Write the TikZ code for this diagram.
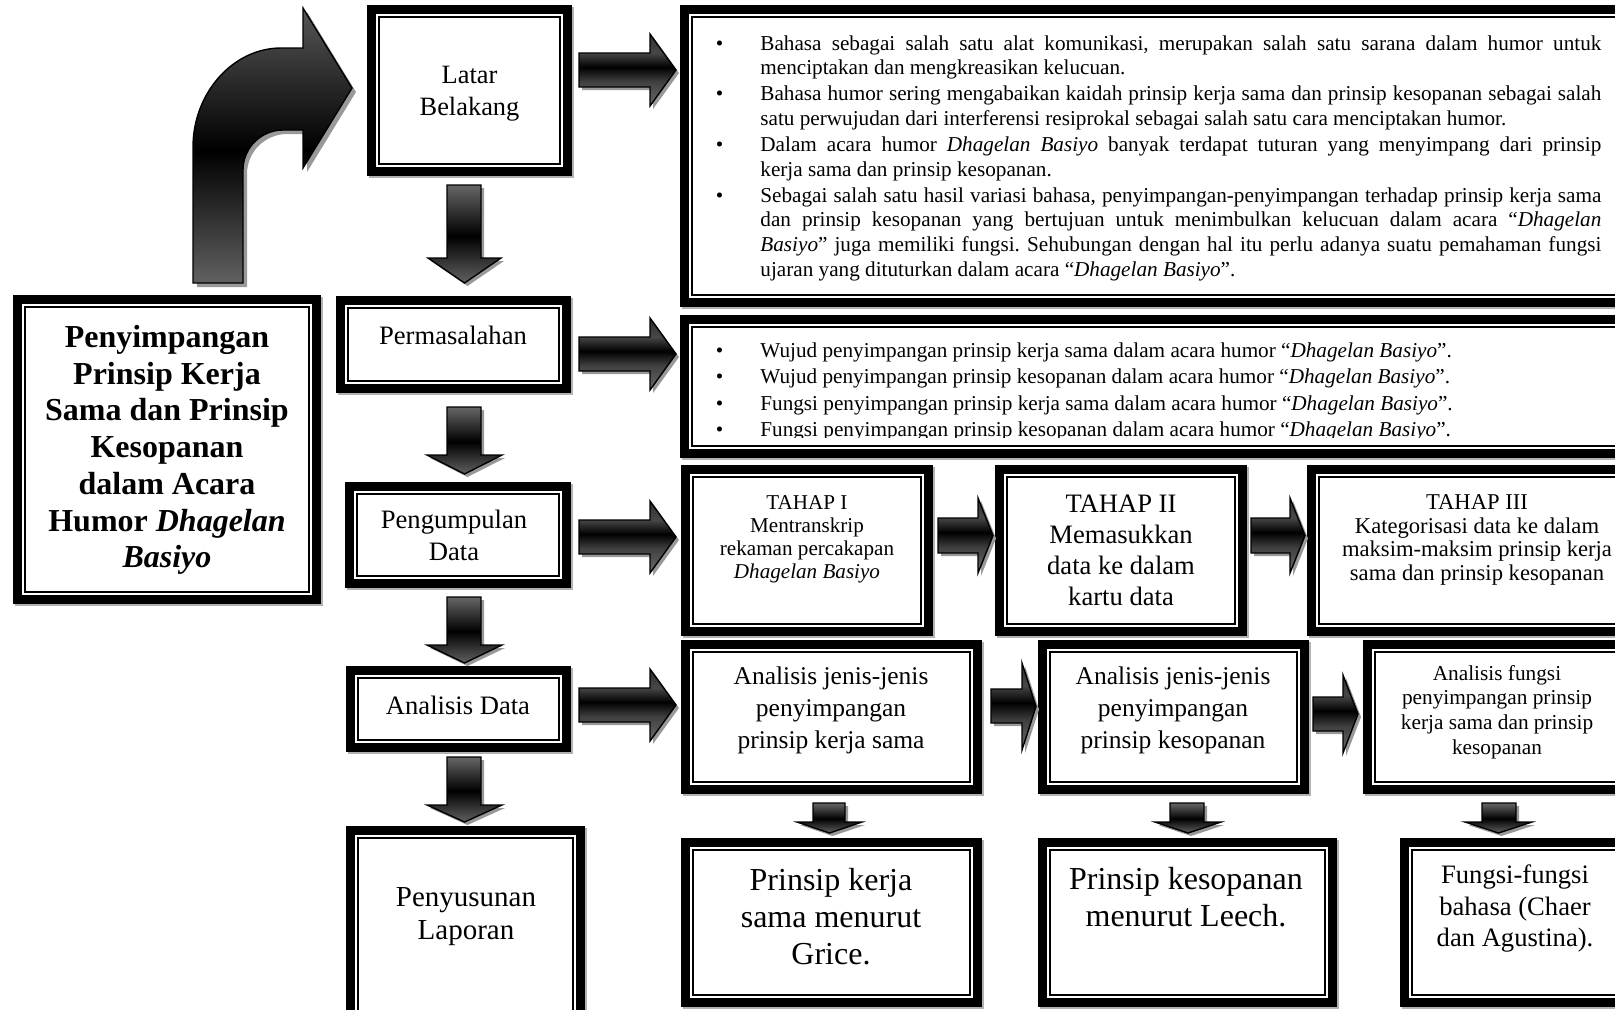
\documentclass[tikz,border=0pt]{standalone}
\usepackage{fontspec}
\setmainfont{Liberation Serif}
\frenchspacing
\pgfdeclareverticalshading{rshade}{100bp}{color(0bp)=(black!58); color(25bp)=(black!58); color(42bp)=(black!75); color(52bp)=(black); color(62bp)=(black!72); color(75bp)=(black!82); color(100bp)=(black!82)}
\pgfdeclareverticalshading{dshade}{100bp}{color(0bp)=(black!62); color(25bp)=(black!62); color(49bp)=(black); color(75bp)=(black!60); color(100bp)=(black!60)}
\pgfdeclareverticalshading{cshade}{100bp}{color(0bp)=(black!62); color(25bp)=(black!62); color(49bp)=(black); color(75bp)=(black!66); color(100bp)=(black!66)}
\tikzset{
  dbox/.style={rectangle, draw=black, line width=4.5pt, fill=white, inner sep=0pt,
    path picture={\draw[line width=1pt] ([shift={(3.75pt,-3.75pt)}]path picture bounding box.north west) rectangle ([shift={(-3.75pt,3.75pt)}]path picture bounding box.south east);}},
  boxshadow/.style={fill=black!30},
  arrline/.style={draw=black, line width=0.7pt, line join=miter},
  arrshadow/.style={fill=black!40},
  txt/.style={inner sep=0pt, align=center},
}
\newcommand\mybox[5]{%
  \fill[boxshadow] ({#2+2},{#3+2}) rectangle ({#4+2},{#5+2});
  \node[dbox, minimum width={(#4-#2-9)*0.5pt}, minimum height={(#5-#3-9)*0.5pt}] (#1) at ({(#2+#4)/2},{(#3+#5)/2}) {};}
% x1 x2 x3 yh1 ys1 ys2 yh2
\newcommand\myrarrow[7]{%
  \fill[arrshadow, shift={(3,3)}] (#1,#5) -- (#2,#5) -- (#2,#4) -- (#3,{(#4+#7)/2}) -- (#2,#7) -- (#2,#6) -- (#1,#6) -- cycle;
  \shadedraw[arrline, shading=rshade] (#1,#5) -- (#2,#5) -- (#2,#4) -- (#3,{(#4+#7)/2}) -- (#2,#7) -- (#2,#6) -- (#1,#6) -- cycle;}
% xs1 xs2 xh1 xh2 ytop ybase ytip
\newcommand\mydarrow[7]{%
  \fill[arrshadow, shift={(3,3)}] (#1,#5) -- (#2,#5) -- (#2,#6) -- (#4,#6) -- ({(#3+#4)/2},#7) -- (#3,#6) -- (#1,#6) -- cycle;
  \shadedraw[arrline, shading=dshade] (#1,#5) -- (#2,#5) -- (#2,#6) -- (#4,#6) -- ({(#3+#4)/2},#7) -- (#3,#6) -- (#1,#6) -- cycle;}
\newcommand\blt{\llap{\textbullet\hspace{18.5pt}}}
\newcommand\jl[1]{\makebox[\linewidth][s]{#1}}
\begin{document}
\begin{tikzpicture}[x=0.5pt,y=-0.5pt]
\useasboundingbox (0,0) rectangle (1615,1009);
\clip (0,0) rectangle (1615,1009);
\fill[white] (0,0) rectangle (1615,1009);

% boxes
\mybox{title}{13}{295}{321}{604}
\mybox{latar}{367}{5}{572}{176}
\mybox{perm}{336}{296}{571}{393}
\mybox{peng}{345}{482}{571}{588}
\mybox{anal}{346}{666}{571}{752}
\mybox{peny}{346}{826}{585}{1025}
\mybox{box1}{680}{5}{1660}{307}
\mybox{box2}{680}{315}{1660}{458}
\mybox{tahap1}{681}{465}{933}{636}
\mybox{tahap2}{995}{465}{1247}{636}
\mybox{tahap3}{1307}{465}{1660}{636}
\mybox{ana1}{681}{640}{982}{794}
\mybox{ana2}{1038}{640}{1309}{794}
\mybox{ana3}{1363}{640}{1660}{794}
\mybox{teo1}{681}{838}{982}{1007}
\mybox{teo2}{1038}{838}{1337}{1007}
\mybox{teo3}{1400}{838}{1660}{1007}

% curved arrow
\fill[arrshadow, shift={(4,4)}] (193,283) -- (193,147) .. controls (193,93) and (233,48) .. (281,48) -- (303,48) -- (303,8) -- (352,88) -- (303,168) -- (303,130) -- (283,130) .. controls (261,130) and (243,148) .. (243,170) -- (243,283) -- cycle;
\shadedraw[arrline, shading=cshade] (193,283) -- (193,147) .. controls (193,93) and (233,48) .. (281,48) -- (303,48) -- (303,8) -- (352,88) -- (303,168) -- (303,130) -- (283,130) .. controls (261,130) and (243,148) .. (243,170) -- (243,283) -- cycle;

% right arrows
\myrarrow{579}{650}{676}{34}{53}{87}{106}
\myrarrow{579}{650}{676}{318}{337}{371}{390}
\myrarrow{579}{650}{676}{501}{520}{554}{573}
\myrarrow{579}{650}{676}{669}{688}{722}{741}
\myrarrow{938}{978}{993}{498}{518}{553}{573}
\myrarrow{1251}{1290}{1305}{498}{518}{553}{573}
\myrarrow{991}{1022}{1036}{663}{689}{723}{750}
\myrarrow{1313}{1343}{1358}{675}{697}{731}{753}

% down arrows
\mydarrow{447}{481}{428}{501}{185}{258}{283}
\mydarrow{447}{481}{427}{502}{407}{455}{474}
\mydarrow{447}{481}{427}{502}{597}{645}{663}
\mydarrow{447}{481}{427}{502}{757}{805}{822}
\mydarrow{813}{845}{797}{862}{803}{822}{833}
\mydarrow{1170}{1204}{1155}{1221}{803}{822}{833}
\mydarrow{1482}{1516}{1465}{1532}{803}{822}{833}

% texts
\node[txt, font=\fontsize{16pt}{18.35pt}\selectfont\bfseries] (ttitle) at (167,450) {Penyimpangan\\Prinsip Kerja\\Sama dan Prinsip\\Kesopanan\\dalam Acara\\Humor \textit{Dhagelan}\\\textit{Basiyo}};
\node[txt, font=\fontsize{13.2pt}{16pt}\selectfont] (tlatar) at (469.5,94) {Latar\\Belakang};
\node[txt, font=\fontsize{13.3pt}{16pt}\selectfont] (tperm) at (453,335) {Permasalahan};
\node[txt, font=\fontsize{13.3pt}{16pt}\selectfont] (tpeng) at (454,535) {Pengumpulan\\Data};
\node[txt, font=\fontsize{13.3pt}{16pt}\selectfont] (tanal) at (458,705) {Analisis Data};
\node[txt, font=\fontsize{14.5pt}{16.5pt}\selectfont] (tpeny) at (466,917) {Penyusunan\\Laporan};

\node[txt, font=\fontsize{10.56pt}{11.5pt}\selectfont] (ttahap1) at (807,539) {TAHAP I\\Mentranskrip\\rekaman percakapan\\\textit{Dhagelan Basiyo}};
\node[txt, font=\fontsize{13.3pt}{15.5pt}\selectfont] (ttahap2) at (1121,550.5) {TAHAP II\\Memasukkan\\data ke dalam\\kartu data};
\node[txt, font=\fontsize{11.3pt}{11.75pt}\selectfont] (ttahap3) at (1477,540) {TAHAP III\\Kategorisasi data ke dalam\\maksim-maksim prinsip kerja\\sama dan prinsip kesopanan};

\node[txt, font=\fontsize{12.75pt}{16pt}\selectfont] (tana1) at (831,710) {Analisis jenis-jenis\\penyimpangan\\prinsip kerja sama};
\node[txt, font=\fontsize{12.75pt}{16pt}\selectfont] (tana2) at (1173,710) {Analisis jenis-jenis\\penyimpangan\\prinsip kesopanan};
\node[txt, font=\fontsize{10.65pt}{12.35pt}\selectfont] (tana3) at (1497,712) {Analisis fungsi\\penyimpangan prinsip\\kerja sama dan prinsip\\kesopanan};

\node[txt, font=\fontsize{16pt}{18.5pt}\selectfont] (tteo1) at (831,916.5) {Prinsip kerja\\sama menurut\\Grice.};
\node[txt, font=\fontsize{16pt}{18.5pt}\selectfont] (tteo2) at (1186,897) {Prinsip kesopanan\\menurut Leech.};
\node[txt, font=\fontsize{13.3pt}{15.75pt}\selectfont] (tteo3) at (1515,908.5) {Fungsi-fungsi\\bahasa (Chaer\\dan Agustina).};

\node[anchor=base west, inner sep=0pt] (tbox1) at (760,50.2) {\begin{minipage}[t]{420.5pt}\fontsize{10.6pt}{12.35pt}\selectfont
\noindent\blt\jl{Bahasa sebagai salah satu alat komunikasi, merupakan salah satu sarana dalam humor untuk}\par
\noindent menciptakan dan mengkreasikan kelucuan.\par\vspace{0.6pt}
\noindent\blt\jl{Bahasa humor sering mengabaikan kaidah prinsip kerja sama dan prinsip kesopanan sebagai salah}\par
\noindent satu perwujudan dari interferensi resiprokal sebagai salah satu cara menciptakan humor.\par\vspace{0.6pt}
\noindent\blt\jl{Dalam acara humor \textit{Dhagelan Basiyo} banyak terdapat tuturan yang menyimpang dari prinsip}\par
\noindent kerja sama dan prinsip kesopanan.\par\vspace{0.6pt}
\noindent\blt\jl{Sebagai salah satu hasil variasi bahasa, penyimpangan-penyimpangan terhadap prinsip kerja sama}\par
\noindent\jl{dan prinsip kesopanan yang bertujuan untuk menimbulkan kelucuan dalam acara “\textit{Dhagelan}}\par
\noindent\jl{\textit{Basiyo}” juga memiliki fungsi. Sehubungan dengan hal itu perlu adanya suatu pemahaman fungsi}\par
\noindent ujaran yang dituturkan dalam acara “\textit{Dhagelan Basiyo}”.\par
\end{minipage}};

\begin{scope}
\clip (690,322) rectangle (1615,437);
\node[anchor=base west, inner sep=0pt] (tbox2) at (760,357) {\begin{minipage}[t]{700pt}\fontsize{10.6pt}{13.25pt}\selectfont
\noindent\blt Wujud penyimpangan prinsip kerja sama dalam acara humor “\textit{Dhagelan Basiyo}”.\par
\noindent\blt Wujud penyimpangan prinsip kesopanan dalam acara humor “\textit{Dhagelan Basiyo}”.\par
\noindent\blt Fungsi penyimpangan prinsip kerja sama dalam acara humor “\textit{Dhagelan Basiyo}”.\par
\noindent\blt Fungsi penyimpangan prinsip kesopanan dalam acara humor “\textit{Dhagelan Basiyo}”.\par
\end{minipage}};
\end{scope}
\end{tikzpicture}
\end{document}
